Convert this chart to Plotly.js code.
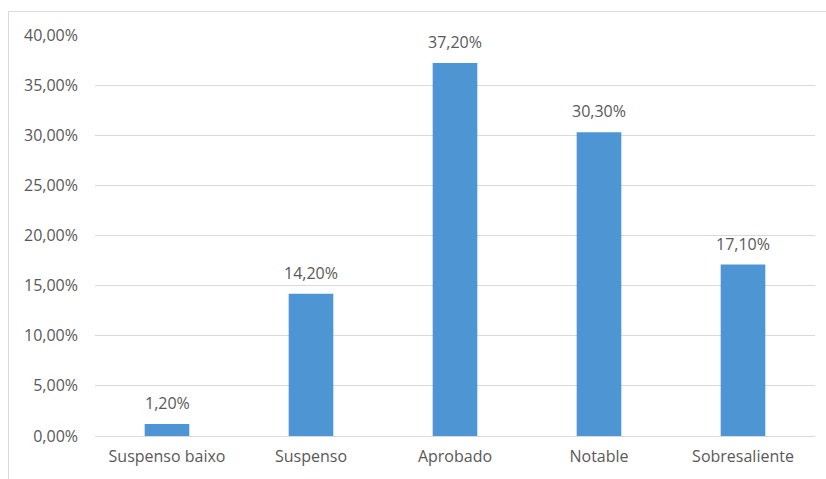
<!DOCTYPE html>
<html>
<head>
<meta charset="utf-8">
<script src="https://cdn.plot.ly/plotly-3.0.1.min.js"></script>
<style>
  html, body { margin: 0; padding: 0; background: #fff; }
  #wrap { position: relative; width: 826px; height: 479px; overflow: hidden; }
  #frame { position: absolute; left: 8px; top: 11px; width: 830px; height: 480px;
           border-left: 1px solid #D9D9D9; border-top: 1px solid #D9D9D9; box-sizing: border-box; }
  #chart { position: absolute; left: 0; top: 0; width: 826px; height: 479px; }
</style>
</head>
<body>
<div id="wrap">
  <div id="frame"></div>
  <div id="chart"></div>
</div>
<script>
const categories = ["Suspenso baixo", "Suspenso", "Aprobado", "Notable", "Sobresaliente"];
const values = [0.012, 0.142, 0.372, 0.303, 0.171];
const yTicks = [0, 0.05, 0.10, 0.15, 0.20, 0.25, 0.30, 0.35, 0.40];

const textColor = "#595959";
const fontFamily = "'Open Sans', sans-serif";
const fontSize = 16;

const trace = {
  type: "bar",
  x: categories,
  y: values,
  marker: { color: "#4E96D3" },
  hoverinfo: "skip"
};

const annotations = categories.map((c, i) => ({
  x: c, y: values[i], xref: "x", yref: "y",
  text: (values[i] * 100).toFixed(2).replace(".", ",") + "%",
  showarrow: false, yanchor: "bottom", yshift: 8,
  font: { family: fontFamily, size: fontSize, color: textColor }
}));

const layout = {
  width: 826, height: 479,
  margin: { l: 95, r: 11, t: 35, b: 43 },
  paper_bgcolor: "rgba(0,0,0,0)",
  plot_bgcolor: "rgba(0,0,0,0)",
  separators: ",.",
  bargap: 0.69,
  showlegend: false,
  font: { family: fontFamily, size: fontSize, color: textColor },
  xaxis: {
    type: "category",
    showgrid: false, zeroline: false, showline: false,
    ticks: "", ticklabelstandoff: 9,
    tickfont: { family: fontFamily, size: fontSize, color: textColor }
  },
  yaxis: {
    range: [0, 0.40],
    tickvals: yTicks,
    tickformat: ".2%",
    showgrid: true, gridcolor: "#D9D9D9", gridwidth: 1,
    zeroline: true, zerolinecolor: "#D9D9D9", zerolinewidth: 1,
    showline: false, ticks: "", ticklabelstandoff: 16,
    tickfont: { family: fontFamily, size: fontSize, color: textColor }
  },
  annotations: annotations
};

Plotly.newPlot("chart", [trace], layout, { staticPlot: true, displayModeBar: false });
</script>
</body>
</html>
